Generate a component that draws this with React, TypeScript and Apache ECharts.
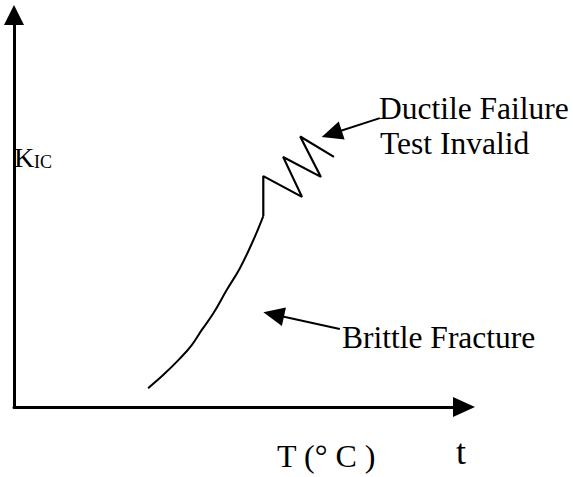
import React, { useEffect, useRef } from "react";
import * as echarts from "echarts";

// Brittle fracture branch of the K_IC vs temperature curve (arbitrary units 0-100)
const curveTemp = [29.8, 33.2, 36.9, 39.5, 41.7, 44.3, 47.3, 50.2, 53.2, 55.4];
const curveK = [4.8, 8.2, 12.4, 15.8, 19.6, 23.9, 29.9, 35.4, 42.6, 48.7];

// Ductile failure zigzag (test invalid region)
const zigTemp = [55.4, 55.4, 64.0, 59.8, 68.2, 63.6, 71.1];
const zigK = [48.7, 58.9, 53.6, 63.8, 58.7, 69.0, 63.8];

// Annotation arrows: [start, end] in axis units
const ductileArrow = [[81.3, 73.7], [70.6, 69.7]];
const brittleArrow = [[72.4, 19.9], [57.7, 23.6]];

const yLabelMain = "K";
const yLabelSub = "IC";
const xLabel = "T (° C )";
const xLabelRight = "t";
const ductileText = ["Ductile Failure", "Test Invalid"];
const brittleText = "Brittle Fracture";

const FONT = "Liberation Serif";

export default function App() {
  const ref = useRef<HTMLDivElement>(null);

  useEffect(() => {
    document.body.style.margin = "0";
    const chart = echarts.init(ref.current!, null, { renderer: "svg" });
    const curve = curveTemp.map((t, i) => [t, curveK[i]]);
    const zig = zigTemp.map((t, i) => [t, zigK[i]]);
    const arrowLine = (a: number[][]) => [
      { coord: a[0], symbol: "none" },
      { coord: a[1], symbol: "triangle", symbolSize: [19, 21] },
    ];
    const txt = (text: string, x: number, y: number, size = 31.5) => ({
      type: "text",
      x,
      y,
      style: {
        text,
        fontFamily: FONT,
        fontSize: size,
        fill: "#000",
        verticalAlign: "middle",
        align: "left",
      },
    });

    chart.setOption({
      animation: false,
      backgroundColor: "#fff",
      grid: { left: 14, top: 15, right: 109, bottom: 70, containLabel: false },
      xAxis: {
        type: "value",
        min: 0,
        max: 100,
        axisLine: {
          show: true,
          onZero: false,
          symbol: ["none", "triangle"],
          symbolSize: [20, 22],
          lineStyle: { color: "#000", width: 3 },
        },
        axisTick: { show: false },
        axisLabel: { show: false },
        splitLine: { show: false },
      },
      yAxis: {
        type: "value",
        min: 0,
        max: 100,
        axisLine: {
          show: true,
          onZero: false,
          symbol: ["none", "triangle"],
          symbolSize: [20, 20],
          lineStyle: { color: "#000", width: 3 },
        },
        axisTick: { show: false },
        axisLabel: { show: false },
        splitLine: { show: false },
      },
      series: [
        {
          name: "Brittle Fracture",
          type: "line",
          data: curve,
          showSymbol: false,
          smooth: 0.4,
          lineStyle: { color: "#000", width: 2 },
          markLine: {
            silent: true,
            animation: false,
            label: { show: false },
            lineStyle: { color: "#000", width: 2, type: "solid" },
            emphasis: { disabled: true },
            data: [arrowLine(brittleArrow)],
          },
        },
        {
          name: "Ductile Failure",
          type: "line",
          data: zig,
          showSymbol: false,
          lineStyle: { color: "#000", width: 2.2 },
          markLine: {
            silent: true,
            animation: false,
            label: { show: false },
            lineStyle: { color: "#000", width: 2, type: "solid" },
            emphasis: { disabled: true },
            data: [arrowLine(ductileArrow)],
          },
        },
      ],
      graphic: [
        txt(yLabelMain, 14, 157, 28),
        txt(yLabelSub, 34, 162, 18),
        txt(ductileText[0], 379, 108),
        txt(ductileText[1], 380, 143),
        txt(brittleText, 342, 337),
        txt(xLabel, 277, 456, 32),
        txt(xLabelRight, 456, 452, 36),
      ],
    });
    return () => chart.dispose();
  }, []);

  return <div ref={ref} style={{ width: 573, height: 477 }} />;
}
